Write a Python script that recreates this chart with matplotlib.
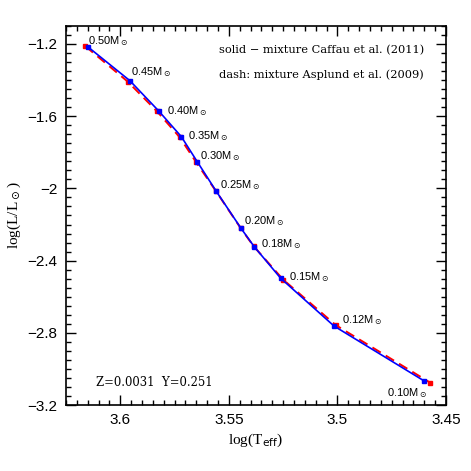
"""Low-mass isochrone HR diagram: Caffau vs Asplund mixtures."""

import matplotlib

matplotlib.use("Agg")
import matplotlib.pyplot as plt
from matplotlib.ticker import MultipleLocator

plt.rcParams["font.family"] = "Liberation Sans"
plt.rcParams["mathtext.fontset"] = "dejavusans"

MASSES = [0.50, 0.45, 0.40, 0.35, 0.30, 0.25, 0.20, 0.18, 0.15, 0.12, 0.10]

# solid: Caffau et al. (2011)
TEFF_CAFFAU = [3.6149, 3.5956, 3.5823, 3.5719, 3.5645, 3.5559, 3.5444, 3.5383, 3.5261, 3.5016, 3.4600]
LUM_CAFFAU = [-1.216, -1.403, -1.571, -1.713, -1.853, -2.014, -2.221, -2.323, -2.498, -2.762, -3.067]

# dash: Asplund et al. (2009)
TEFF_ASPLUND = [3.6160, 3.5966, 3.5830, 3.5726, 3.5650, 3.5560, 3.5445, 3.5386, 3.5250, 3.5008, 3.4573]
LUM_ASPLUND = [-1.213, -1.408, -1.574, -1.717, -1.856, -2.014, -2.221, -2.320, -2.505, -2.757, -3.076]

# label offsets in points (dx, dy) relative to each Caffau point
LABEL_OFFSETS = [(0, 4), (1, 6), (6, 0), (5, 0), (2, 4), (3, 4), (2, 5), (5, 2), (6, 1), (6, 4), (2, -9)]

fig = plt.figure(figsize=(4.71, 4.71), dpi=100)
ax = fig.add_axes([0.140, 0.140, 0.807, 0.805])

ax.plot(TEFF_ASPLUND, LUM_ASPLUND, color="red", ls=(0, (5, 3)), lw=1.4,
        marker="s", ms=3.5, mec="red", mfc="red", zorder=2)
ax.plot(TEFF_CAFFAU, LUM_CAFFAU, color="blue", ls="-", lw=1.2,
        marker="s", ms=3.5, mec="blue", mfc="blue", zorder=3)

for m, x, y, (dx, dy) in zip(MASSES, TEFF_CAFFAU, LUM_CAFFAU, LABEL_OFFSETS):
    ha = "right" if m == 0.10 else "left"
    ax.annotate(f"{m:.2f}M$_\\odot$", (x, y), xytext=(dx, dy), textcoords="offset points",
                ha=ha, va="center", fontsize=8)

ax.set_xlim(3.625, 3.45)
ax.set_ylim(-3.2, -1.1)
ax.xaxis.set_major_locator(MultipleLocator(0.05))
ax.xaxis.set_minor_locator(MultipleLocator(0.005))
ax.yaxis.set_major_locator(MultipleLocator(0.4))
ax.yaxis.set_minor_locator(MultipleLocator(0.05))
ax.set_xticks([3.6, 3.55, 3.5, 3.45])
ax.set_xticklabels(["3.6", "3.55", "3.5", "3.45"])
ax.set_yticks([-1.2, -1.6, -2.0, -2.4, -2.8, -3.2])
ax.set_yticklabels(["\u22121.2", "\u22121.6", "\u22122", "\u22122.4", "\u22122.8", "\u22123.2"])
ax.tick_params(which="both", direction="in", top=True, right=True, labelsize=11, width=1.0)
ax.tick_params(which="major", length=7, pad=6)
ax.tick_params(which="minor", length=3.5)
for s in ax.spines.values():
    s.set_linewidth(1.2)

ax.set_xlabel("log(T$_{\\rm eff}$)", fontsize=11, family="Liberation Serif", labelpad=3)
ax.set_ylabel("log(L/L$_\\odot$)", fontsize=11, family="Liberation Serif", labelpad=3)

ax.text(0.942, 0.937, "solid \u2212 mixture Caffau et al. (2011)", transform=ax.transAxes,
        fontsize=8.2, family="DejaVu Serif", ha="right", va="center")
ax.text(0.942, 0.871, "dash: mixture Asplund et al. (2009)", transform=ax.transAxes,
        fontsize=8.2, family="DejaVu Serif", ha="right", va="center")
ax.text(0.08, 0.06, "Z=0.0031  Y=0.251", transform=ax.transAxes,
        fontsize=8.4, family="DejaVu Serif", ha="left", va="center")

fig.savefig("out.png", dpi=100)
